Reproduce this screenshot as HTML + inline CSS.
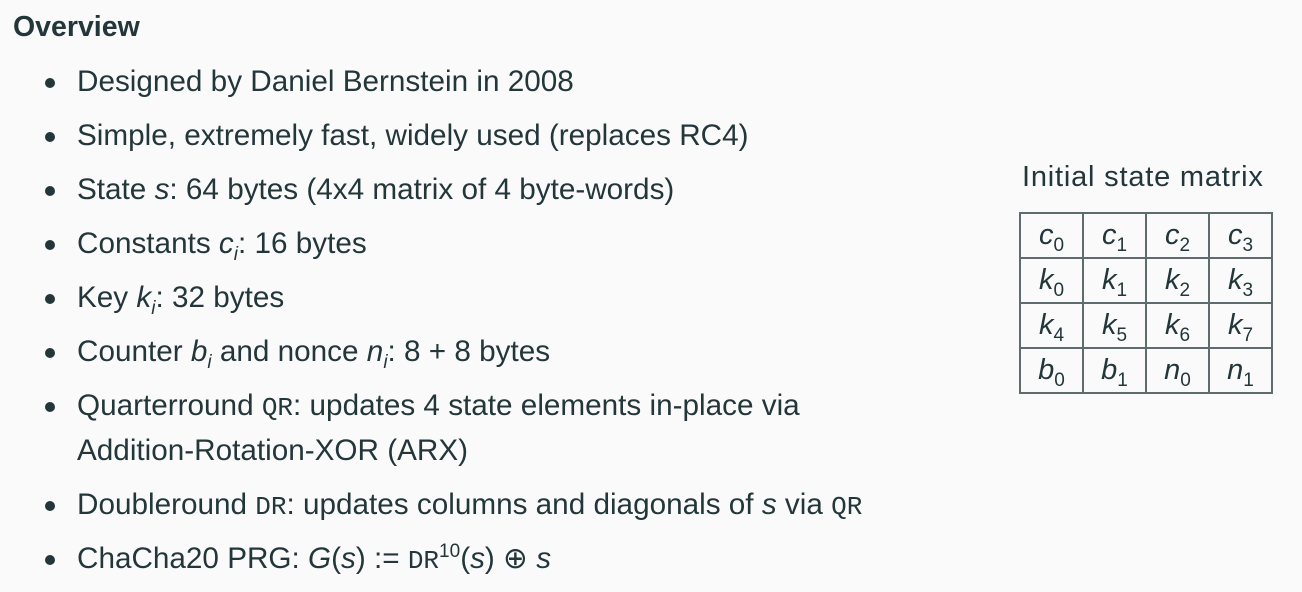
<!DOCTYPE html>
<html><head><meta charset="utf-8"><style>
body{margin:0;width:1302px;height:592px;background:#fafafa;color:#23373b;font-family:"Liberation Sans",sans-serif;position:relative;overflow:hidden}
.l{position:absolute;left:77px;font-size:29.7px;line-height:30px;white-space:nowrap}
.b{position:absolute;left:45px;width:10px;height:10px;border-radius:50%;background:#23373b}
i{font-style:italic}
.m{font-family:"Liberation Mono",monospace;font-size:26px}
sub,sup{font-size:19px;line-height:0}
table{position:absolute;left:1019px;top:212px;border-collapse:collapse;font-size:29px}
td{border:2px solid #5e6c6e;width:61px;height:43px;text-align:center;font-style:italic;padding:0}
td sub{font-style:normal}
</style></head><body>
<div style="position:absolute;left:13px;top:11px;font-size:28.5px;font-weight:bold">Overview</div>
<div class="b" style="top:78px"></div><div class="l" style="top:67px">Designed by Daniel Bernstein in 2008</div>
<div class="b" style="top:132px"></div><div class="l" style="top:121px">Simple, extremely fast, widely used (replaces RC4)</div>
<div class="b" style="top:186px"></div><div class="l" style="top:175px">State <i>s</i>: 64 bytes (4x4 matrix of 4 byte-words)</div>
<div class="b" style="top:240px"></div><div class="l" style="top:229px">Constants <i>c<sub>i</sub></i>: 16 bytes</div>
<div class="b" style="top:294px"></div><div class="l" style="top:283px">Key <i>k<sub>i</sub></i>: 32 bytes</div>
<div class="b" style="top:348px"></div><div class="l" style="top:337px">Counter <i>b<sub>i</sub></i> and nonce <i>n<sub>i</sub></i>: 8 + 8 bytes</div>
<div class="b" style="top:402px"></div><div class="l" style="top:391px">Quarterround <span class="m">QR</span>: updates 4 state elements in-place via</div>
<div class="l" style="top:436px">Addition-Rotation-XOR (ARX)</div>
<div class="b" style="top:501px"></div><div class="l" style="top:490px">Doubleround <span class="m">DR</span>: updates columns and diagonals of <i>s</i> via <span class="m">QR</span></div>
<div class="b" style="top:555px"></div><div class="l" style="top:544px">ChaCha20 PRG: <i>G</i>(<i>s</i>) := <span class="m">DR</span><sup>10</sup>(<i>s</i>) ⊕ <i>s</i></div>
<div style="position:absolute;left:1022px;top:161px;font-size:29px;letter-spacing:0.8px;white-space:nowrap">Initial state matrix</div>
<table>
<tr><td>c<sub>0</sub></td><td>c<sub>1</sub></td><td>c<sub>2</sub></td><td>c<sub>3</sub></td></tr>
<tr><td>k<sub>0</sub></td><td>k<sub>1</sub></td><td>k<sub>2</sub></td><td>k<sub>3</sub></td></tr>
<tr><td>k<sub>4</sub></td><td>k<sub>5</sub></td><td>k<sub>6</sub></td><td>k<sub>7</sub></td></tr>
<tr><td>b<sub>0</sub></td><td>b<sub>1</sub></td><td>n<sub>0</sub></td><td>n<sub>1</sub></td></tr>
</table>
</body></html>
